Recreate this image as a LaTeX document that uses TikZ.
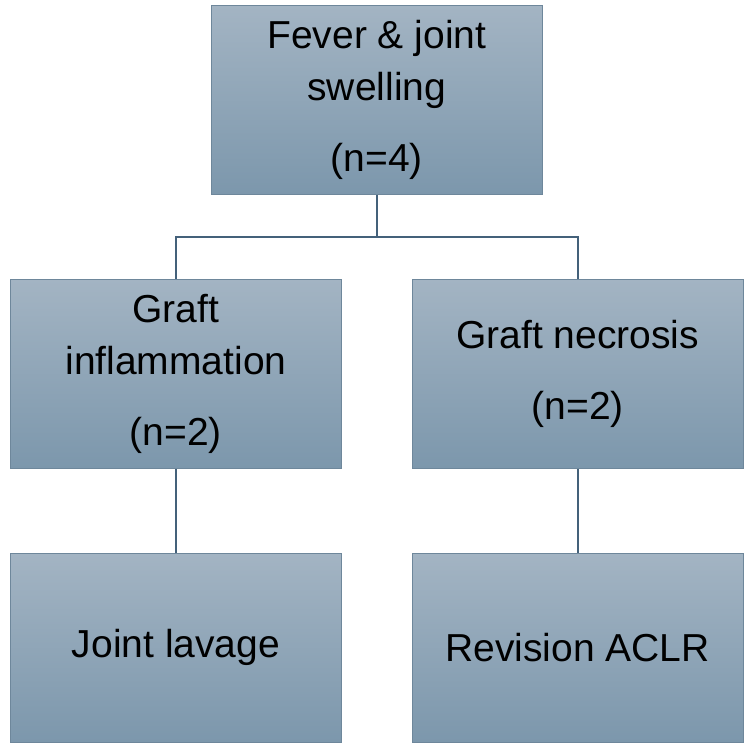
\documentclass[tikz,border=0pt]{standalone}
\usepackage{fontspec}
\setmainfont{Liberation Sans}
\usepackage{xcolor}
\usetikzlibrary{positioning}
\definecolor{slatetop}{RGB}{163,180,195}
\definecolor{slatebottom}{RGB}{124,151,172}
\definecolor{slateedge}{RGB}{110,135,155}
\definecolor{slateline}{RGB}{68,97,122}

\begin{document}
\begin{tikzpicture}[
    node distance=84pt,
    box/.style={rectangle,draw=slateedge,line width=0.8pt,
      top color=slatetop,bottom color=slatebottom,
      minimum width=331pt,minimum height=189pt,inner sep=0pt,
      align=center,font=\fontsize{39}{52}\selectfont},
    link/.style={draw=slateline,line width=1.6pt}
  ]
    \useasboundingbox (0pt,0pt) rectangle (750pt,750pt);
    \node[box,anchor=north west] (inflam) at (10pt,471pt) {Graft\\inflammation\\[19pt](n=2)};
    \node[box,right=70pt of inflam] (necro) {Graft necrosis\\[19pt](n=2)};
    \path (inflam.north) -- (necro.north) coordinate[midway] (mid);
    \node[box,above=of mid] (fever) {Fever \& joint\\swelling\\[19pt](n=4)};
    \node[box,below=of inflam] (lavage) {Joint lavage};
    \node[box,below=of necro] (revision) {Revision ACLR};

    \coordinate (split) at ([yshift=-42pt]fever.south);
    \draw[link] (fever.south) -- (split);
    \draw[link] (split) -| (inflam.north);
    \draw[link] (split) -| (necro.north);
    \draw[link] (inflam) -- (lavage);
    \draw[link] (necro) -- (revision);
  \end{tikzpicture}
\end{document}
